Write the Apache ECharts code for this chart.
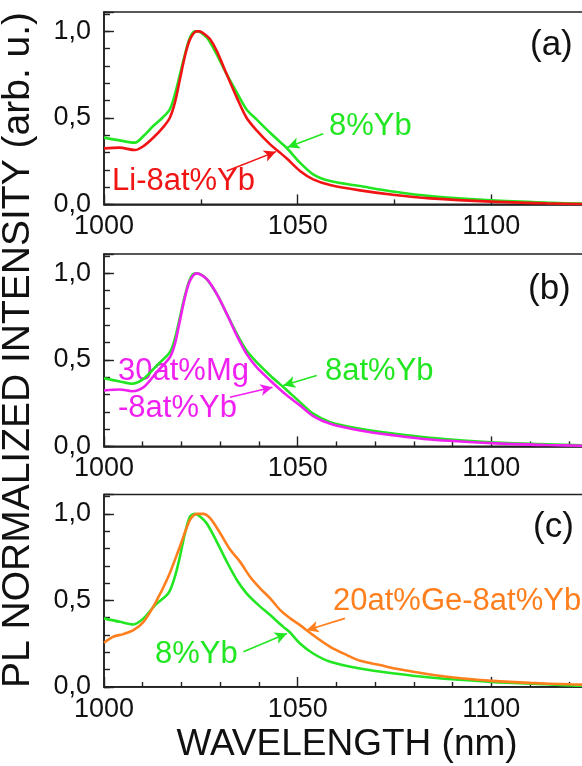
<!DOCTYPE html>
<html>
<head>
<meta charset="utf-8">
<script src="https://cdn.jsdelivr.net/npm/echarts@6/dist/echarts.min.js"></script>
<style>
  html, body { margin: 0; padding: 0; background: #fff; }
  #chart { width: 582px; height: 766px; }
</style>
</head>
<body>
<div id="chart"></div>
<script>
// Normalized PL spectra of Yb-doped samples, three stacked panels.

// Panel (a): 8%Yb vs Li-8at%Yb
const wlA_Yb = [1000, 1004, 1008, 1010.2, 1012.7, 1015.3, 1017, 1018.3, 1019.6, 1020.9, 1022.2, 1023.5, 1024.4, 1025.6, 1026.9, 1029.1, 1031.7, 1034.3, 1036.8, 1039.4, 1042.9, 1045.4, 1047.2, 1050.6, 1054, 1058.4, 1066.1, 1075.1, 1084.2, 1100.1, 1114.3, 1123.4, 1135];
const intA_Yb = [0.386, 0.37, 0.357, 0.395, 0.453, 0.505, 0.55, 0.636, 0.75, 0.867, 0.964, 1.0, 1.0, 0.983, 0.954, 0.867, 0.751, 0.646, 0.549, 0.491, 0.414, 0.362, 0.326, 0.241, 0.174, 0.135, 0.106, 0.073, 0.048, 0.023, 0.01, 0.005, 0.003];
const wlA_Li = [1000, 1004, 1008, 1010.2, 1012.7, 1015.3, 1017, 1018.3, 1019.6, 1020.9, 1022.2, 1023.9, 1024.7, 1026, 1027.4, 1029.1, 1031.7, 1034.3, 1036.8, 1039.4, 1042.9, 1045.4, 1047.2, 1050.6, 1054, 1058.4, 1066.1, 1075.1, 1084.2, 1100.1, 1114.3, 1123.4, 1135];
const intA_Li = [0.324, 0.328, 0.314, 0.337, 0.385, 0.447, 0.501, 0.588, 0.723, 0.858, 0.954, 1.0, 1.0, 0.983, 0.954, 0.887, 0.751, 0.617, 0.501, 0.428, 0.347, 0.3, 0.265, 0.193, 0.145, 0.112, 0.081, 0.054, 0.035, 0.016, 0.006, 0.002, 0.001];

// Panel (b): 8at%Yb vs 30at%Mg-8at%Yb
const wlB_Yb = [1000, 1004.1, 1007.2, 1010.2, 1013.6, 1017, 1018.3, 1019.6, 1020.9, 1022.2, 1023.5, 1024.7, 1026.5, 1029.1, 1031.7, 1034.3, 1036.8, 1039.4, 1042.9, 1045.4, 1047.2, 1050.6, 1054, 1058.4, 1066.1, 1075.1, 1084.2, 1100.1, 1114.3, 1123.4, 1135];
const intB_Yb = [0.394, 0.375, 0.362, 0.39, 0.467, 0.544, 0.621, 0.746, 0.871, 0.967, 1.0, 0.997, 0.967, 0.881, 0.766, 0.65, 0.554, 0.487, 0.41, 0.36, 0.325, 0.256, 0.189, 0.14, 0.102, 0.073, 0.05, 0.023, 0.012, 0.006, 0.003];
const wlB_Mg = [1000, 1004.1, 1007.2, 1010.2, 1013.6, 1017, 1018.3, 1019.6, 1020.9, 1022.2, 1023.9, 1025.2, 1026.9, 1029.1, 1031.7, 1034.3, 1036.8, 1039.4, 1042.9, 1045.4, 1047.2, 1050.6, 1054, 1058.4, 1066.1, 1075.1, 1084.2, 1100.1, 1114.3, 1123.4, 1135];
const intB_Mg = [0.323, 0.329, 0.319, 0.342, 0.429, 0.515, 0.592, 0.727, 0.862, 0.958, 1.0, 0.99, 0.958, 0.881, 0.766, 0.64, 0.535, 0.458, 0.381, 0.33, 0.295, 0.237, 0.175, 0.131, 0.092, 0.063, 0.04, 0.019, 0.008, 0.004, 0.002];

// Panel (c): 8%Yb vs 20at%Ge-8at%Yb
const wlC_Yb = [1000, 1004.1, 1007.6, 1010.2, 1013.2, 1016.6, 1018.3, 1019.6, 1020.9, 1022.2, 1023.5, 1024.7, 1026.5, 1029.1, 1031.7, 1034.3, 1036.8, 1039.4, 1042.9, 1046.3, 1048.1, 1050.6, 1054, 1058.4, 1066.1, 1075.1, 1084.2, 1100.1, 1114.3, 1123.4, 1135];
const intC_Yb = [0.396, 0.376, 0.361, 0.396, 0.473, 0.541, 0.637, 0.753, 0.888, 0.984, 1.0, 0.986, 0.946, 0.84, 0.724, 0.618, 0.541, 0.483, 0.415, 0.347, 0.313, 0.251, 0.193, 0.145, 0.106, 0.077, 0.054, 0.029, 0.015, 0.007, 0.004];
const wlC_Ge = [1000, 1002.4, 1005, 1007.6, 1010.2, 1013.2, 1016.6, 1019.6, 1022.2, 1023.9, 1025.6, 1027.4, 1030, 1032.6, 1035.1, 1037.7, 1040.3, 1042.9, 1045.5, 1048.1, 1050.6, 1054, 1058.4, 1062.7, 1066.1, 1071.3, 1075.1, 1084.2, 1092.8, 1100.1, 1110, 1120.3, 1135];
const intC_Ge = [0.255, 0.29, 0.305, 0.328, 0.376, 0.483, 0.637, 0.811, 0.965, 1.0, 1.0, 0.975, 0.888, 0.792, 0.724, 0.637, 0.57, 0.512, 0.444, 0.396, 0.357, 0.299, 0.232, 0.184, 0.151, 0.126, 0.106, 0.072, 0.049, 0.035, 0.023, 0.015, 0.008];

// Tick labels
const xLabelTicks = [1000, 1050, 1100];
const yLabelTicks = [0, 0.5, 1.0];

const FONT = 'Liberation Sans, Arial, sans-serif';
const C_GREEN = '#22e622';
const C_RED = '#f01414';
const C_MAG = '#f020f0';
const C_ORANGE = '#ff7f1e';
const C_AXIS = '#222';

const panels = [
  { top: 12, minorSplit: 2 },
  { top: 254, minorSplit: 5 },
  { top: 494.5, minorSplit: 5 }
];
const PANEL_H = 192.4;
const Y_MAX = 1.112;

const zip = (xs, ys) => xs.map((x, i) => [x, ys[i]]);

// The plotting box runs on past the right edge of the page (to 1150 nm).
const grids = panels.map(p => ({
  left: 104, top: p.top, width: 581, height: PANEL_H,
  outerBoundsMode: 'none', containLabel: false,
  show: true, borderColor: C_AXIS, borderWidth: 1.6, backgroundColor: 'transparent'
}));

const xAxes = panels.map((p, i) => ({
  type: 'value', gridIndex: i, min: 1000, max: 1150, interval: 50,
  axisLine: { show: true, onZero: false, lineStyle: { color: C_AXIS, width: 1.6 } },
  axisTick: { show: true, inside: true, length: 10, lineStyle: { color: C_AXIS, width: 1.4 } },
  minorTick: { show: true, splitNumber: p.minorSplit, length: 5, lineStyle: { color: C_AXIS, width: 1.4 } },
  splitLine: { show: false },
  axisLabel: {
    show: true, margin: 9, fontSize: 27, color: '#111', fontFamily: FONT,
    formatter: v => (xLabelTicks.indexOf(v) >= 0 ? String(v) : '')
  }
}));

const yAxes = [];
panels.forEach((p, i) => {
  // labelled axis with long ticks at 0,0 / 0,5 / 1,0
  yAxes.push({
    type: 'value', gridIndex: i, position: 'left', min: 0, max: Y_MAX, interval: 0.5,
    axisLine: { show: true, onZero: false, lineStyle: { color: C_AXIS, width: 1.6 } },
    axisTick: { show: true, inside: true, length: 10, lineStyle: { color: C_AXIS, width: 1.4 } },
    splitLine: { show: false },
    axisLabel: {
      show: true, margin: 13, fontSize: 27, color: '#111', fontFamily: FONT,
      formatter: v => {
        const hit = yLabelTicks.find(t => Math.abs(t - v) < 1e-6);
        return hit === undefined ? '' : hit.toFixed(1).replace('.', ',');
      }
    }
  });
  // short ticks every 0,1
  yAxes.push({
    type: 'value', gridIndex: i, position: 'left', min: 0, max: Y_MAX, interval: 0.1,
    axisLine: { show: false },
    axisTick: { show: true, inside: true, length: 6, lineStyle: { color: C_AXIS, width: 1.4 } },
    splitLine: { show: false },
    axisLabel: { show: false }
  });
});

function arrow(color, from, to) {
  return {
    silent: true, animation: false,
    symbol: ['none', 'arrow'], symbolSize: [9, 12],
    label: { show: false },
    lineStyle: { color: color, width: 1.6, type: 'solid' },
    emphasis: { disabled: true },
    data: [[{ coord: from }, { coord: to }]]
  };
}

function curve(name, xi, yi, color, xs, ys, markLine, z) {
  return {
    name: name, type: 'line', xAxisIndex: xi, yAxisIndex: yi,
    data: zip(xs, ys), showSymbol: false, smooth: 0.3, clip: true,
    lineStyle: { color: color, width: 2.6 }, itemStyle: { color: color },
    animation: false, z: z, markLine: markLine
  };
}

const series = [
  curve('8%Yb', 0, 0, C_GREEN, wlA_Yb, intA_Yb, arrow(C_GREEN, [1056.6, 0.409], [1047.4, 0.33]), 2),
  curve('Li-8at%Yb', 0, 0, C_RED, wlA_Li, intA_Li, arrow(C_RED, [1031.7, 0.193], [1044.4, 0.305]), 3),
  curve('8at%Yb', 1, 2, C_GREEN, wlB_Yb, intB_Yb, arrow(C_GREEN, [1054.9, 0.41], [1046.3, 0.352]), 2),
  curve('30at%Mg-8at%Yb', 1, 2, C_MAG, wlB_Mg, intB_Mg, arrow(C_MAG, [1032.5, 0.284], [1043.5, 0.342]), 3),
  curve('8%Yb ', 2, 4, C_GREEN, wlC_Yb, intC_Yb, arrow(C_GREEN, [1036.0, 0.203], [1047.2, 0.309]), 2),
  curve('20at%Ge-8at%Yb', 2, 4, C_ORANGE, wlC_Ge, intC_Ge, arrow(C_ORANGE, [1062.2, 0.396], [1052.3, 0.328]), 3)
];

function label(text, x, y, color, size) {
  return {
    type: 'text', x: x, y: y, silent: true,
    style: { text: text, fill: color, font: size + 'px ' + FONT, textAlign: 'left', textVerticalAlign: 'middle' }
  };
}

const graphic = [
  label('8%Yb', 329, 126, C_GREEN, 31),
  label('Li-8at%Yb', 112, 181.5, C_RED, 31),
  label('(a)', 530, 45.5, '#111', 35),
  label('8at%Yb', 325, 371, C_GREEN, 31),
  label('30at%Mg', 118, 371.5, C_MAG, 31),
  label('-8at%Yb', 118, 408, C_MAG, 31),
  label('(b)', 528, 289, '#111', 35),
  label('20at%Ge-8at%Yb', 333, 601.5, C_ORANGE, 31),
  label('8%Yb', 155, 654, C_GREEN, 31),
  label('(c)', 533, 527.5, '#111', 35),
  {
    type: 'text', x: 18, y: 350, rotation: Math.PI / 2, silent: true,
    style: { text: 'PL NORMALIZED INTENSITY (arb. u.)', fill: '#111', font: '39px ' + FONT, textAlign: 'center', textVerticalAlign: 'middle' }
  },
  {
    type: 'text', x: 347, y: 745, silent: true,
    style: { text: 'WAVELENGTH (nm)', fill: '#111', font: '37px ' + FONT, textAlign: 'center', textVerticalAlign: 'middle' }
  }
];

const chart = echarts.init(document.getElementById('chart'), null, { renderer: 'canvas' });
chart.setOption({
  backgroundColor: '#fff',
  animation: false,
  grid: grids,
  xAxis: xAxes,
  yAxis: yAxes,
  series: series,
  graphic: graphic
});
</script>
</body>
</html>
